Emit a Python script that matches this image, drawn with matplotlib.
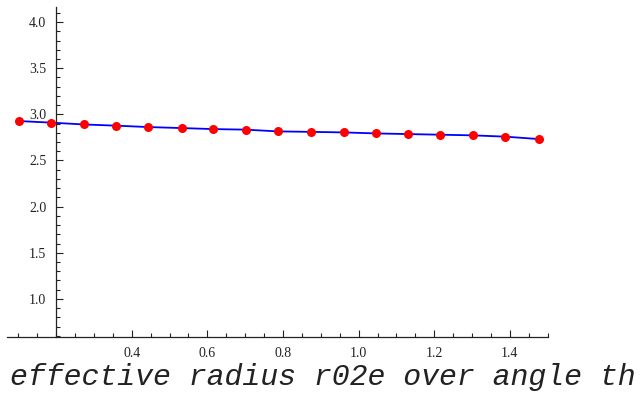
import matplotlib
matplotlib.use("Agg")
import matplotlib.pyplot as plt
from matplotlib.ticker import MultipleLocator, FixedLocator

# angle th (rad) and effective radius r02e
theta = [0.102, 0.187, 0.274, 0.359, 0.444, 0.532, 0.616, 0.701, 0.786,
         0.874, 0.961, 1.046, 1.131, 1.216, 1.303, 1.388, 1.476]
r02e = [2.927, 2.910, 2.890, 2.877, 2.862, 2.851, 2.840, 2.834, 2.815,
        2.810, 2.804, 2.793, 2.786, 2.779, 2.772, 2.758, 2.732]

x_ticks = [0.4, 0.6, 0.8, 1.0, 1.2, 1.4]
y_ticks = [1.0, 1.5, 2.0, 2.5, 3.0, 3.5, 4.0]
label = "effective radius r02e over angle th"

W, H = 641, 394
fig = plt.figure(figsize=(W / 100, H / 100), dpi=100)
ax = fig.add_axes([7 / W, 1 - 337 / H, (548 - 7) / W, (337 - 7) / H])

ax.plot(theta, r02e, color="#0000ff", lw=1.3, zorder=2)
ax.plot(theta, r02e, "o", color="#ff0000", ms=6.5, mec="none", zorder=3,
        clip_on=False)

ax.set_xlim(0.2 - 49 / 377, 1.4 + 38 / 377)
ax.set_ylim(1.0 - 38 / 92, 3.0 + 107 / 92)

for s in ("top", "right"):
    ax.spines[s].set_visible(False)
ax.spines["left"].set_position(("data", 0.2))
ax.spines["bottom"].set_position(("data", 1.0 - 38 / 92))
for s in ("left", "bottom"):
    ax.spines[s].set_linewidth(0.9)
    ax.spines[s].set_color("#222222")

ax.xaxis.set_major_locator(FixedLocator(x_ticks))
ax.xaxis.set_minor_locator(MultipleLocator(0.05))
ax.yaxis.set_major_locator(FixedLocator(y_ticks))
ax.yaxis.set_minor_locator(MultipleLocator(0.1))
ax.set_xticklabels([f"{v:.1f}" for v in x_ticks])
ax.set_yticklabels([f"{v:.1f}" for v in y_ticks])

ax.tick_params(which="both", direction="in", color="#222222", width=0.8,
               labelsize=10, labelcolor="#222222")
ax.tick_params(which="major", length=5, pad=7)
ax.tick_params(which="minor", length=2.8)
for t in ax.get_xticklabels() + ax.get_yticklabels():
    t.set_family("Liberation Serif")

fig.text(10 / W, 1 - 385 / H, label, family="Liberation Mono",
         style="italic", fontsize=21.5, color="#222222", va="baseline",
         ha="left")

fig.savefig("out.png", dpi=100)
